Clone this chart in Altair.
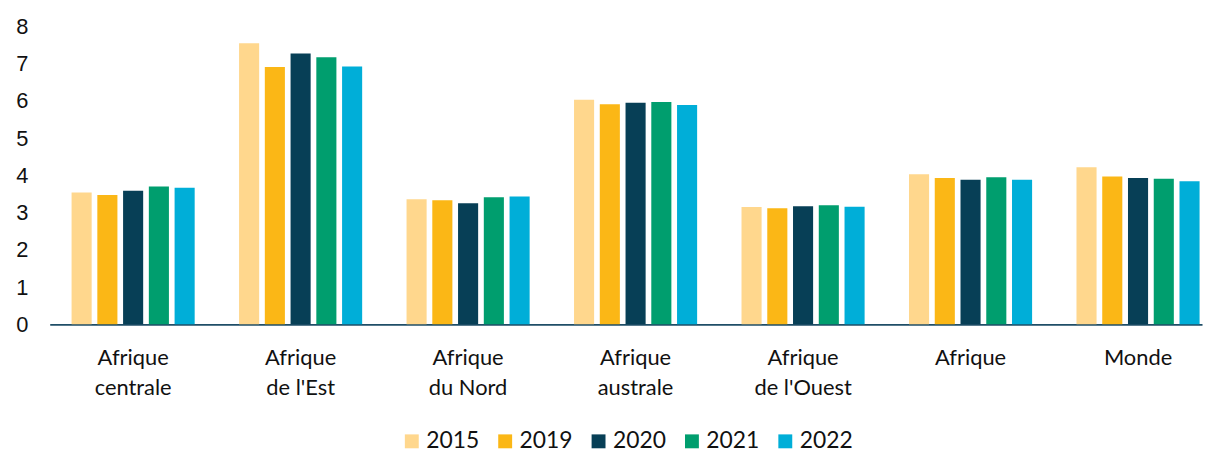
import altair as alt
import pandas as pd

categories = ["Afrique|centrale", "Afrique|de l'Est", "Afrique|du Nord", "Afrique|australe",
              "Afrique|de l'Ouest", "Afrique", "Monde"]
years = ["2015", "2019", "2020", "2021", "2022"]
v2015 = [3.54, 7.55, 3.36, 6.03, 3.15, 4.03, 4.22]
v2019 = [3.47, 6.91, 3.33, 5.91, 3.12, 3.93, 3.97]
v2020 = [3.59, 7.27, 3.25, 5.95, 3.17, 3.88, 3.93]
v2021 = [3.70, 7.17, 3.41, 5.97, 3.20, 3.95, 3.91]
v2022 = [3.67, 6.92, 3.43, 5.89, 3.16, 3.88, 3.84]
colors = ["#FFD78D", "#FBB716", "#073F56", "#009E6E", "#00AED8"]

rows = []
for yr, vals in zip(years, [v2015, v2019, v2020, v2021, v2022]):
    for c, v in zip(categories, vals):
        rows.append({"region": c, "year": yr, "value": v})
df = pd.DataFrame(rows)

chart = alt.Chart(df).mark_bar().encode(
    x=alt.X("region:N", sort=categories, title=None,
            scale=alt.Scale(paddingInner=0.265, paddingOuter=0.0725, align=0.9, round=False),
            axis=alt.Axis(labelExpr="split(datum.value, '|')", labelAngle=0,
                          labelFont="Lato", labelFontSize=22, labelColor="#111111",
                          labelPadding=23, labelLineHeight=31, ticks=False,
                          domainColor="#1F4E67", domainWidth=2, grid=False)),
    xOffset=alt.XOffset("year:N", sort=years,
                        scale=alt.Scale(paddingInner=0.22, paddingOuter=0)),
    y=alt.Y("value:Q", title=None,
            scale=alt.Scale(domain=[0, 8], nice=False),
            axis=alt.Axis(values=[0, 1, 2, 3, 4, 5, 6, 7, 8], domain=False, ticks=False,
                          grid=False, labelFont="Liberation Sans", labelFontSize=22,
                          labelColor="#111111", labelPadding=22)),
    color=alt.Color("year:N", sort=years, title=None,
                    scale=alt.Scale(domain=years, range=colors),
                    legend=alt.Legend(orient="none", legendX=353, legendY=406,
                                      direction="horizontal", columns=5,
                                      symbolType="square", symbolSize=196,
                                      symbolStrokeWidth=0, labelFont="Lato",
                                      labelFontSize=23, labelColor="#111111",
                                      labelOffset=3, columnPadding=14)),
).properties(
    width=1160, height=300,
    autosize=alt.AutoSizeParams(type="none"),
    padding={"left": 42, "top": 17, "right": 2, "bottom": 128},
).configure_view(stroke=None)

chart.save("out.html", embed_options={"renderer": "svg", "actions": False})
